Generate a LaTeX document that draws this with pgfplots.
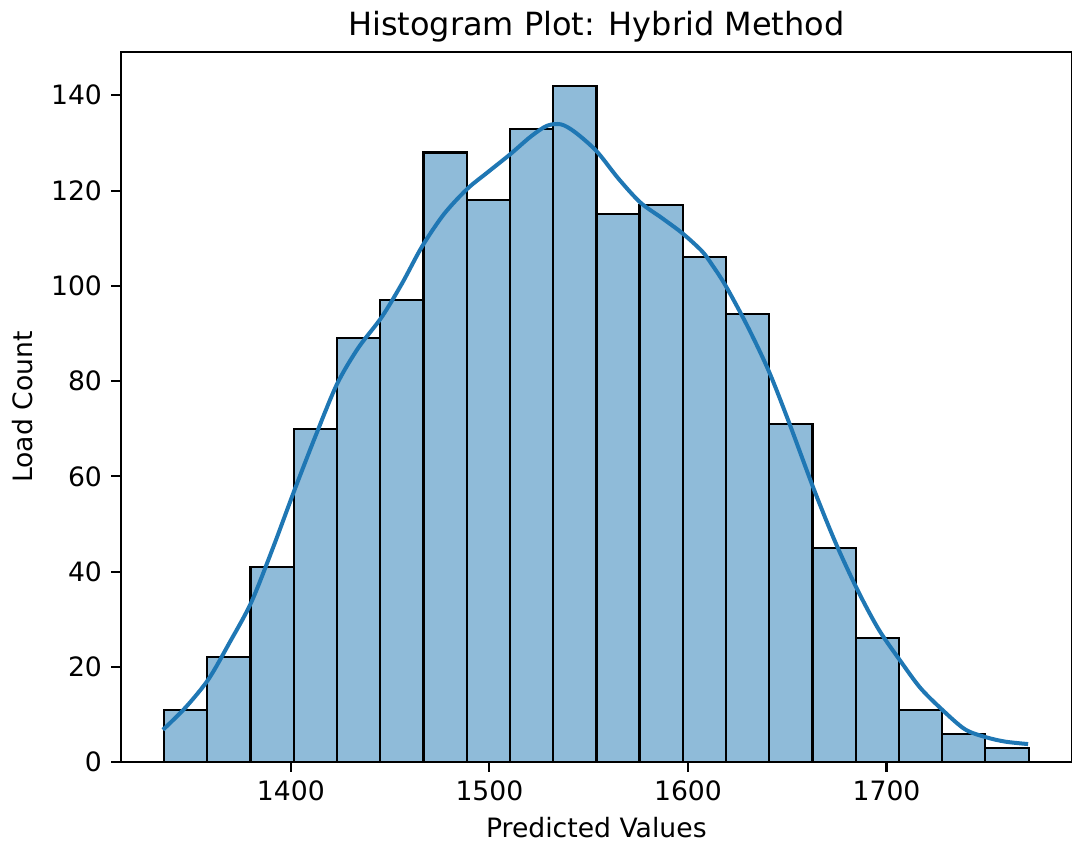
\documentclass[border=0pt]{standalone}
\usepackage{fontspec}
\setmainfont{DejaVu Sans}
\usepackage{pgfplots}
\pgfplotsset{compat=1.18}
\definecolor{barfill}{HTML}{8FBBD9}
\definecolor{kde}{HTML}{1F77B4}
\begin{document}
\begin{tikzpicture}
\begin{axis}[
  at={(0,0)}, anchor=south west,
  scale only axis, width=357.1pt, height=266.6pt,
  xmin=1314.3, xmax=1793.4, ymin=0, ymax=149.1,
  axis line style={line width=0.8pt},
  tick style={line width=0.8pt, black},
  major tick length=3.5pt,
  tick align=outside,
  xtick={1400,1500,1600,1700}, ytick={0,20,...,140},
  xtick pos=bottom, ytick pos=left,
  /pgf/number format/assume math mode=true,
  /pgf/number format/1000 sep={},
  tick label style={font=\fontsize{10}{12}\selectfont},
  xlabel={Predicted Values}, ylabel={Load Count},
  label style={font=\fontsize{10}{12}\selectfont},
  xlabel style={at={(rel axis cs:0.5,0)}, anchor=center, yshift=-24.7pt},
  ylabel style={at={([xshift=-37pt]rel axis cs:0,0.5)}, anchor=center},
  title={Histogram Plot: Hybrid Method},
  title style={font=\fontsize{12}{14}\selectfont, at={(rel axis cs:0.5,1)}, anchor=base},
]
\addplot[ybar interval, fill=barfill, draw=black, line width=0.8pt] coordinates {
(1336.1,11) (1357.9,22) (1379.7,41) (1401.4,70) (1423.2,89) (1445.0,97)
(1466.8,128) (1488.5,118) (1510.3,133) (1532.1,142) (1553.9,115) (1575.6,117)
(1597.4,106) (1619.2,94) (1641.0,71) (1662.7,45) (1684.5,26) (1706.3,11)
(1728.1,6) (1749.8,3) (1771.6,3)
};
\addplot[kde, line width=1.5pt, smooth, tension=0.5, mark=none] coordinates {
(1335.6,6.8) (1347,11.5) (1358.5,17.4) (1369,25) (1380.0,33.5) (1391,45) (1402.0,57.3)
(1413.4,69.5) (1423.4,79.5) (1434,87) (1445.7,93.4) (1456,100.5) (1466,108.2)
(1477,115) (1488.7,120.3) (1499,123.8) (1510.4,127.6) (1521,131.4) (1529,133.6)
(1536,133.9) (1543,132.3) (1553.9,128.3) (1565,122.5) (1576,117.5) (1587,114.2)
(1597.3,111.0) (1607,107.3) (1612,104.5) (1619,100) (1630,91.5) (1640.8,82)
(1650.9,71.3) (1663.4,57.3) (1674.3,46.1) (1685.2,36.3) (1696.0,27.9)
(1706.9,21.3) (1717,15.6) (1727.8,11.1) (1739.5,6.9) (1750.4,5.2) (1760,4.3) (1771.3,3.8)
};
\end{axis}
\pgfresetboundingbox
\path[use as bounding box] (-45.3pt,-30.7pt) rectangle (357.1pt,286.1pt);
\end{tikzpicture}
\end{document}
